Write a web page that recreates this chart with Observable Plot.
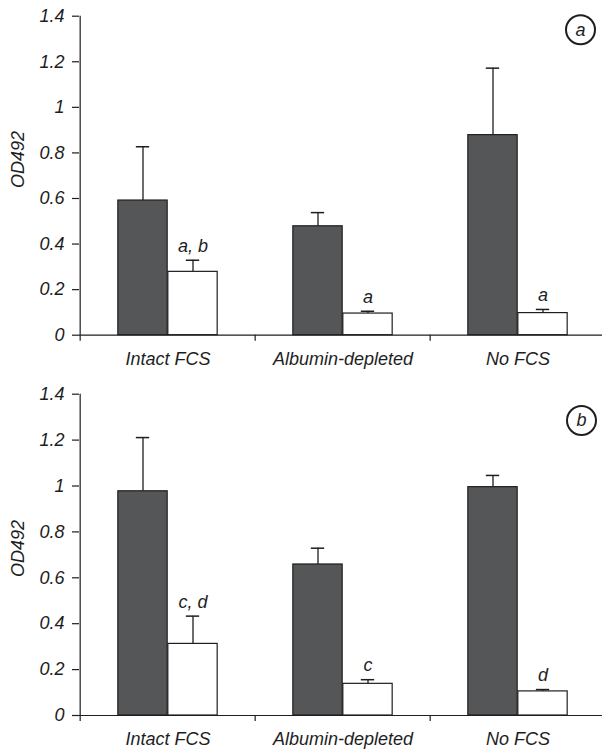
<!DOCTYPE html>
<html>
<head>
<meta charset="utf-8">
<script src="https://cdn.jsdelivr.net/npm/d3@7"></script>
<script src="https://cdn.jsdelivr.net/npm/@observablehq/plot@0.6"></script>
<style>
  html, body { margin: 0; padding: 0; background: white; }
  #chart svg { display: block; }
</style>
</head>
<body>
<div id="chart"></div>
<script>
// ---- data ----
const categories = ["Intact FCS", "Albumin-depleted", "No FCS"];
const yTicks = [0, 0.2, 0.4, 0.6, 0.8, 1, 1.2, 1.4];

// panel a
const darkA = [0.591, 0.478, 0.878];
const darkErrA = [0.236, 0.060, 0.294];
const whiteA = [0.278, 0.095, 0.097];
const whiteErrA = [0.051, 0.010, 0.016];
const notesA = ["a, b", "a", "a"];

// panel b
const darkB = [0.977, 0.658, 0.995];
const darkErrB = [0.234, 0.071, 0.051];
const whiteB = [0.312, 0.138, 0.105];
const whiteErrB = [0.121, 0.018, 0.008];
const notesB = ["c, d", "c", "d"];

const panelLetters = ["a", "b"];

// ---- layout constants ----
const W = 602, H = 375, ML = 79;
const bw = (606 - ML) / 3;     // band width
const barW = 50, capW = 14;
const darkFill = "#555658";
const ink = "#1e1e1e";

function panel(dark, darkErr, white, whiteErr, notes, letter, o) {
  const rows = categories.map((c, i) => ({
    c, dark: dark[i], dHi: dark[i] + darkErr[i],
    white: white[i], wHi: white[i] + whiteErr[i], note: notes[i]
  }));
  const dCenter = bw / 2 - barW / 2, wCenter = bw / 2 + barW / 2;
  return Plot.plot({
    width: W, height: H,
    marginLeft: ML, marginRight: 0, marginTop: o.mt, marginBottom: o.mb,
    style: {fontFamily: "'Liberation Sans', Arial, sans-serif", fontStyle: "italic", fontSize: "18px", color: ink, background: "white"},
    x: {domain: categories, range: [ML, ML + 3 * bw], padding: 0, label: null},
    y: {domain: [0, 1.4], label: null},
    marks: [
      // y axis line
      Plot.ruleX([categories[0]], {x: d => d, dx: -bw / 2, y1: 0, y2: 1.4, stroke: ink, strokeWidth: 1.2}),
      Plot.axisY({ticks: yTicks, tickSize: 7, tickPadding: 8, stroke: ink, strokeWidth: 1.2, fill: ink, tickFormat: d3.format("~g")}),
      Plot.axisX({tickSize: 0, tickPadding: 17, fill: ink}),
      // category boundary ticks
      Plot.ruleX(categories, {x: d => d, dx: -bw / 2, y1: 0, y2: 0, insetBottom: -6, stroke: ink, strokeWidth: 1.2}),
      // error bars
      Plot.ruleX(rows, {x: "c", y1: "dark", y2: "dHi", dx: -barW / 2, stroke: ink, strokeWidth: 1.3}),
      Plot.tickY(rows, {x: "c", y: "dHi", insetLeft: dCenter - capW / 2, insetRight: bw - dCenter - capW / 2, stroke: ink, strokeWidth: 1.5}),
      Plot.ruleX(rows, {x: "c", y1: "white", y2: "wHi", dx: barW / 2, stroke: ink, strokeWidth: 1.3}),
      Plot.tickY(rows, {x: "c", y: "wHi", insetLeft: wCenter - capW / 2, insetRight: bw - wCenter - capW / 2, stroke: ink, strokeWidth: 1.5}),
      // bars
      Plot.rectY(rows, {x: "c", y: "dark", fill: darkFill, stroke: ink, strokeWidth: 1.2, insetLeft: bw / 2 - barW, insetRight: bw / 2}),
      Plot.rectY(rows, {x: "c", y: "white", fill: "white", stroke: ink, strokeWidth: 1.2, insetLeft: bw / 2, insetRight: bw / 2 - barW}),
      // x axis line
      Plot.ruleY([0], {stroke: ink, strokeWidth: 1.2}),
      // significance letters
      Plot.text(rows, {x: "c", y: "wHi", text: "note", dx: barW / 2, dy: -14, fill: ink}),
      // y title
      Plot.text(["OD492"], {frameAnchor: "left", y: o.titleY, dx: -61, rotate: -90, textAnchor: "middle", lineAnchor: "middle", fill: ink}),
      // panel letter
      Plot.dot([letter], {frameAnchor: "top-right", dx: o.cdx, dy: o.cdy, r: 14.5, stroke: ink, strokeWidth: 2, fill: "white"}),
      Plot.text([letter], {frameAnchor: "top-right", dx: o.cdx, dy: o.cdy, text: d => d, textAnchor: "middle", lineAnchor: "middle", fill: ink})
    ]
  });
}

const el = document.getElementById("chart");
el.append(panel(darkA, darkErrA, whiteA, whiteErrA, notesA, panelLetters[0], {mt: 15.7, mb: 40.3, titleY: 0.771, cdx: -22, cdy: 13.6}));
el.append(panel(darkB, darkErrB, whiteB, whiteErrB, notesB, panelLetters[1], {mt: 18.7, mb: 35, titleY: 0.728, cdx: -21, cdy: 26.3}));
</script>
</body>
</html>
